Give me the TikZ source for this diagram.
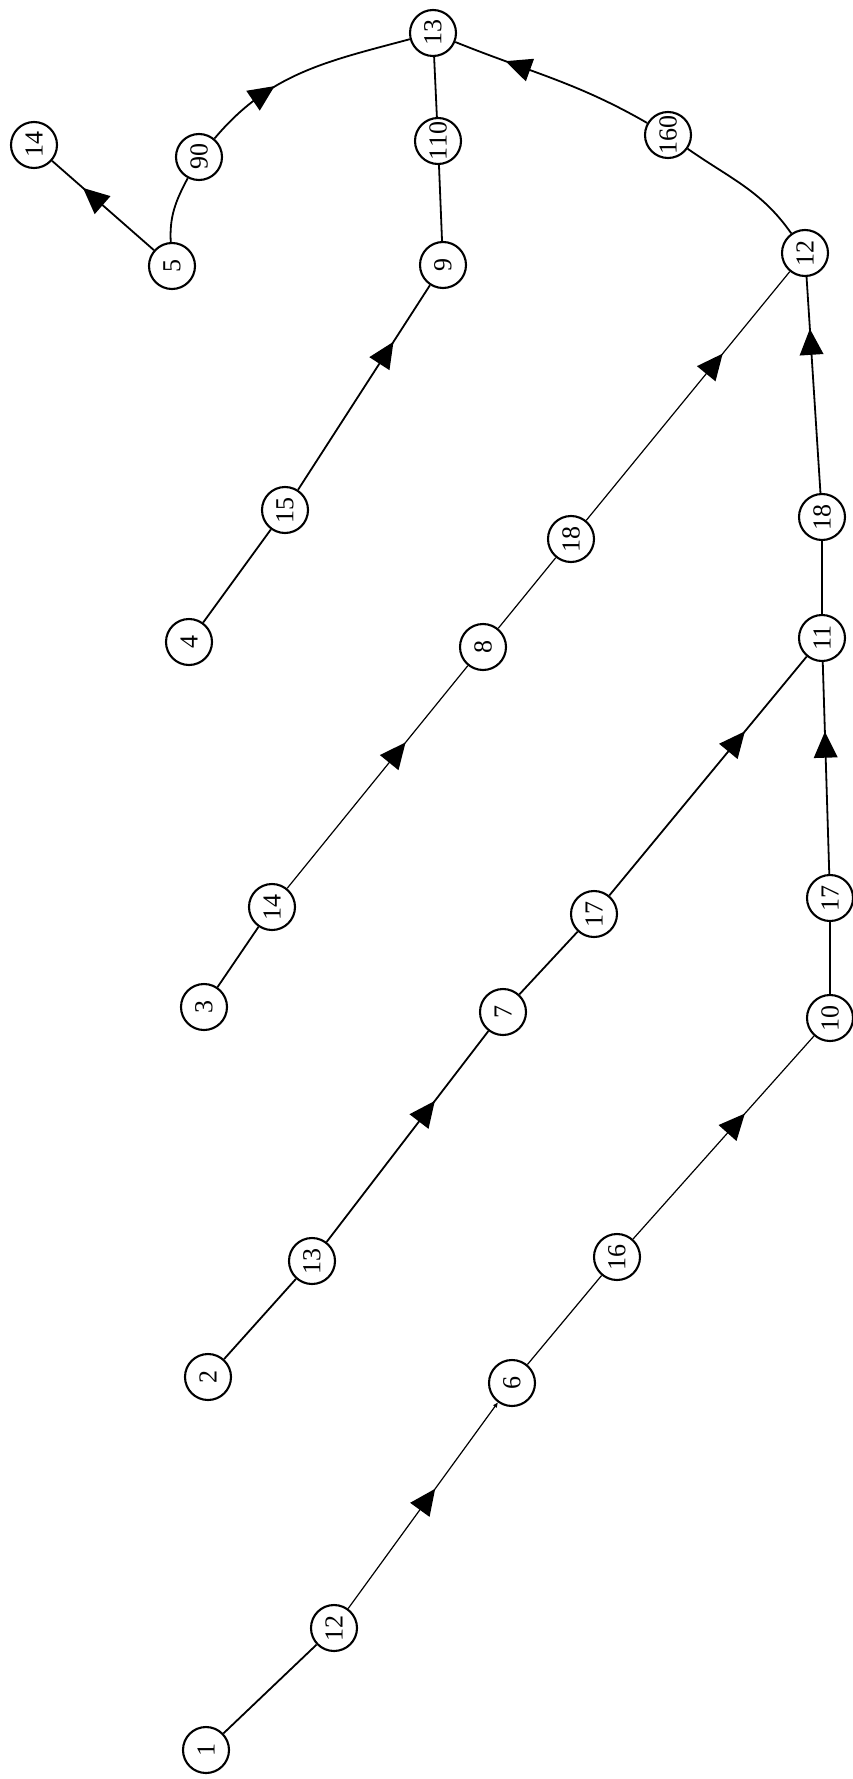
\documentclass[tikz,border=0pt]{standalone}
\usepackage{fontspec}
\setmainfont{Liberation Serif}
\usetikzlibrary{decorations.markings,arrows.meta}
\newcommand{\rlab}[1]{\rotatebox{90}{#1}}
\tikzset{
  vtx/.style={circle, draw, line width=2.1pt, minimum size=46pt, inner sep=0pt, font=\fontsize{26}{26}\selectfont},
  edge/.style={line width=1.8pt},
  thinedge/.style={line width=1.2pt},
  arr/.style={postaction={decorate}, decoration={markings, mark=at position #1 with {\fill (13pt,0pt) -- (-13pt,12pt) -- (-13pt,-12pt) -- cycle;}}}
}
\begin{document}
\begin{tikzpicture}[x=1pt,y=1pt]
\useasboundingbox (0,0) rectangle (853,-1779);
% nodes
\node[vtx] (a14) at (34,-145) {\rlab{14}};
\node[vtx] (a5) at (172,-266) {\rlab{5}};
\node[vtx] (a90) at (199,-157) {\rlab{90}};
\node[vtx] (t13) at (433,-33) {\rlab{13}};
\node[vtx] (a110) at (438,-141) {\rlab{110}};
\node[vtx] (a9) at (443,-265) {\rlab{9}};
\node[vtx] (a160) at (668,-135) {\rlab{160}};
\node[vtx] (r12) at (805,-253) {\rlab{12}};
\node[vtx] (a15) at (285,-510) {\rlab{15}};
\node[vtx] (a4) at (189,-642) {\rlab{4}};
\node[vtx] (a18) at (571,-539) {\rlab{18}};
\node[vtx] (a8) at (483,-647) {\rlab{8}};
\node[vtx] (b14) at (272,-907) {\rlab{14}};
\node[vtx] (a3) at (204,-1007) {\rlab{3}};
\node[vtx] (a11) at (822,-638) {\rlab{11}};
\node[vtx] (r18) at (822,-517) {\rlab{18}};
\node[vtx] (a17) at (594,-914) {\rlab{17}};
\node[vtx] (a7) at (503,-1012) {\rlab{7}};
\node[vtx] (b13) at (312,-1261) {\rlab{13}};
\node[vtx] (a2) at (208,-1377) {\rlab{2}};
\node[vtx] (r17) at (830,-898) {\rlab{17}};
\node[vtx] (a10) at (830,-1018) {\rlab{10}};
\node[vtx] (a16) at (617,-1257) {\rlab{16}};
\node[vtx] (a6) at (512,-1383) {\rlab{6}};
\node[vtx] (b12) at (334,-1628) {\rlab{12}};
\node[vtx] (a1) at (206,-1750) {\rlab{1}};
% top group
\draw[edge, arr=0.6] (a5) -- (a14);
\draw[edge] (a5) to[out=93,in=-118] (a90);
\draw[edge, arr=0.3] (a90) to[out=50,in=195] (t13);
\draw[edge] (t13) -- (a110);
\draw[edge] (a110) -- (a9);
\draw[edge, arr=0.68] (a160) to[out=150,in=-22] (t13);
\draw[edge] (r12) to[out=125,in=-35] (a160);
% chain 4
\draw[edge] (a4) -- (a15);
\draw[edge, arr=0.67] (a15) -- (a9);
% chain 3
\draw[edge] (a3) -- (b14);
\draw[thinedge, arr=0.61] (b14) -- (a8);
\draw[thinedge] (a8) -- (a18);
\draw[thinedge, arr=0.63] (a18) -- (r12);
% chain 2
\draw[edge] (a2) -- (b13);
\draw[edge, arr=0.62] (b13) -- (a7);
\draw[edge] (a7) -- (a17);
\draw[edge, arr=0.645] (a17) -- (a11);
% chain 1
\draw[edge] (a1) -- (b12);
\draw[thinedge, arr=0.53, -{Triangle[length=5pt,width=4pt]}] (b12) -- (a6);
\draw[thinedge] (a6) -- (a16);
\draw[thinedge, arr=0.57] (a16) -- (a10);
\draw[edge] (a10) -- (r17);
\draw[edge, arr=0.61] (r17) -- (a11);
\draw[edge] (a11) -- (r18);
\draw[edge, arr=0.70] (r18) -- (r12);
\end{tikzpicture}
\end{document}
